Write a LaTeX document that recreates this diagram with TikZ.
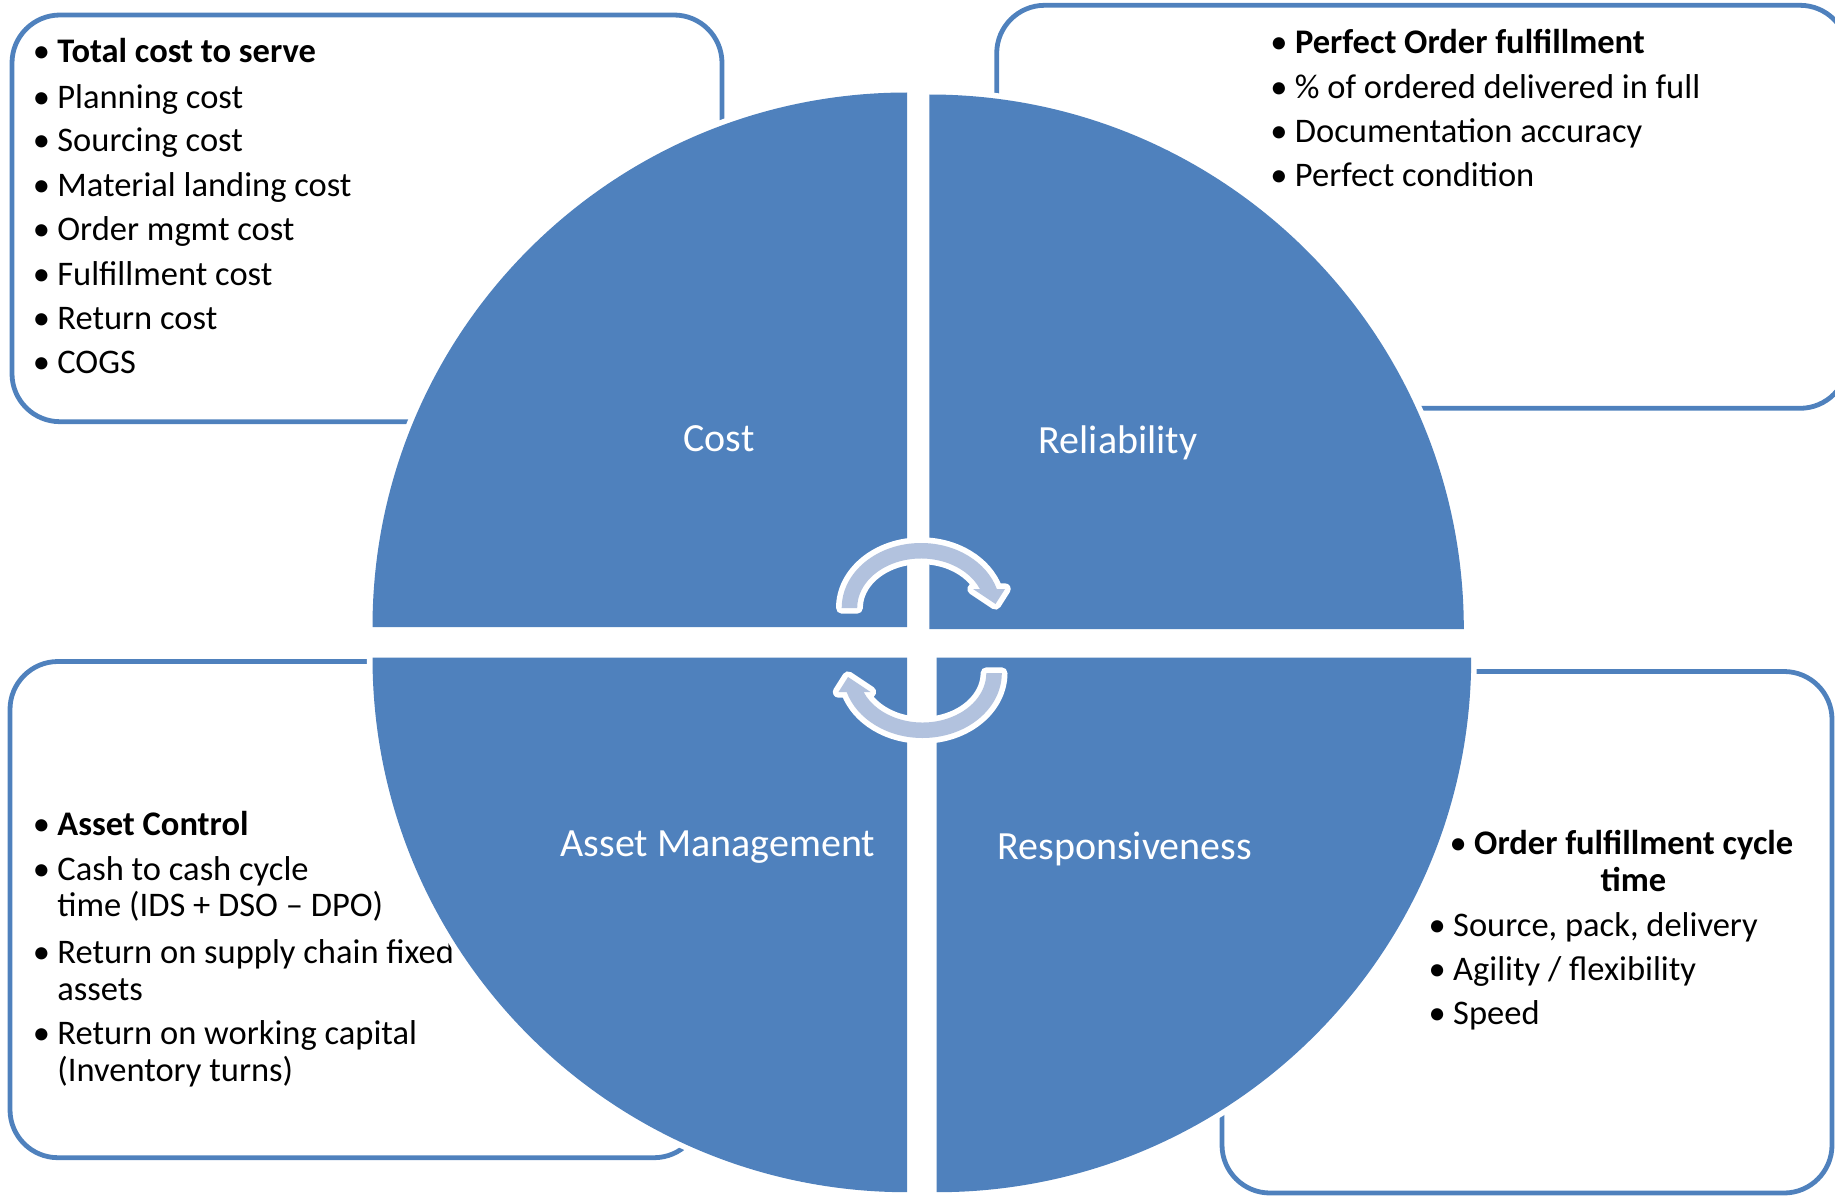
\documentclass[tikz,border=0pt]{standalone}
\usepackage{fontspec}
\setmainfont{Carlito}
\definecolor{sect}{HTML}{4F81BD}
\definecolor{boxline}{HTML}{4F81BD}
\definecolor{arrowfill}{HTML}{B2C2DE}
\newcommand\mybul{\hbox to 32pt{\hss\textbullet\hss}}
\tikzset{
  sector/.style={fill=sect, preaction={draw=white, line width=11.2}},
  infobox/.style={draw=boxline, line width=4.8, rounded corners=48},
  itemtxt/.style={anchor=base west, inner sep=0, font=\fontsize{34.5}{40}\selectfont},
  itemctr/.style={anchor=base, inner sep=0, font=\fontsize{34.5}{40}\selectfont},
  seglabel/.style={anchor=base, inner sep=0, text=white, font=\fontsize{40}{48}\selectfont},
  cyclearrow/.style={fill=arrowfill, preaction={draw=white, line width=11.4, line join=round}},
}
\begin{document}
\begin{tikzpicture}[x=1pt,y=1pt,yscale=-1]
\useasboundingbox (0,0) rectangle (1835,1196);

% boxes
\draw[infobox] (12,15) rectangle (722,421.7);
\draw[infobox] (996.7,5.3) rectangle (1848,408.3);
\draw[infobox] (10,661.5) rectangle (702,1157.7);
\draw[infobox] (1222,671.5) rectangle (1832,1193);

% top-left text
\node[itemtxt] (tl1) at (25.2,62.7) {\mybul\textbf{Total cost to serve}};
\node[itemtxt] (tl2) at (25.2,108.3) {\mybul Planning cost};
\node[itemtxt] (tl3) at (25.2,151.7) {\mybul Sourcing cost};
\node[itemtxt] (tl4) at (25.2,196.7) {\mybul Material landing cost};
\node[itemtxt] (tl5) at (25.2,240.7) {\mybul Order mgmt cost};
\node[itemtxt] (tl6) at (25.2,285) {\mybul Fulfillment cost};
\node[itemtxt] (tl7) at (25.2,329.3) {\mybul Return cost};
\node[itemtxt] (tl8) at (25.2,373.3) {\mybul COGS};

% top-right text
\node[itemtxt] (tr1) at (1262.8,54) {\mybul\textbf{Perfect Order fulfillment}};
\node[itemtxt] (tr2) at (1262.8,98.3) {\mybul\% of ordered delivered in full};
\node[itemtxt] (tr3) at (1262.8,142.7) {\mybul Documentation accuracy};
\node[itemtxt] (tr4) at (1262.8,186.7) {\mybul Perfect condition};

% bottom-left text
\node[itemtxt] (bl1) at (25.2,835.7) {\mybul\textbf{Asset Control}};
\node[itemtxt] (bl2) at (25.2,880.4) {\mybul Cash to cash cycle};
\node[itemtxt] (bl2b) at (57.2,916.6) {time (IDS + DSO – DPO)};
\node[itemtxt] (bl3) at (25.2,963.4) {\mybul Return on supply chain fixed};
\node[itemtxt] (bl3b) at (57.2,1000) {assets};
\node[itemtxt] (bl4) at (25.2,1044.3) {\mybul Return on working capital};
\node[itemtxt] (bl4b) at (57.2,1081.5) {(Inventory turns)};

% bottom-right text
\node[itemtxt] (br1) at (1442,854.5) {\mybul\textbf{Order fulfillment cycle}};
\node[itemctr] (br1b) at (1633.4,891.8) {\textbf{time}};
\node[itemtxt] (br2) at (1421,936) {\mybul Source, pack, delivery};
\node[itemtxt] (br3) at (1421,980.4) {\mybul Agility / flexibility};
\node[itemtxt] (br4) at (1421,1024.8) {\mybul Speed};

% sectors
\path[sector] (907,627) -- (372.5,627) arc[start angle=180, end angle=270, radius=534.5] -- cycle;
\path[sector] (929.3,629) -- (929.3,94.5) arc[start angle=270, end angle=360, radius=534.5] -- cycle;
\path[sector] (936.7,657.7) -- (1471.2,657.7) arc[start angle=0, end angle=90, radius=534.5] -- cycle;
\path[sector] (907,657.7) -- (907,1192.2) arc[start angle=90, end angle=180, radius=534.5] -- cycle;

% cycle arrows
\path[cyclearrow] (841.7,608) arc[start angle=180, end angle=343, x radius=79.3, y radius=65]
  -- (1005,589) -- (995.5,604) -- (973,589) -- (979.9,589)
  arc[start angle=337.43, end angle=180, x radius=63.8, y radius=49.5] -- cycle;
\begin{scope}[rotate around={180:(921.75,640.5)}]
\path[cyclearrow] (841.7,608) arc[start angle=180, end angle=343, x radius=79.3, y radius=65]
  -- (1005,589) -- (995.5,604) -- (973,589) -- (979.9,589)
  arc[start angle=337.43, end angle=180, x radius=63.8, y radius=49.5] -- cycle;
\end{scope}

% sector labels
\node[seglabel] (lcost) at (719,451) {Cost};
\node[seglabel] (lrel) at (1118,453.5) {Reliability};
\node[seglabel] (lasset) at (718,856.3) {Asset Management};
\node[seglabel] (lresp) at (1124.7,859) {Responsiveness};
\end{tikzpicture}
\end{document}
